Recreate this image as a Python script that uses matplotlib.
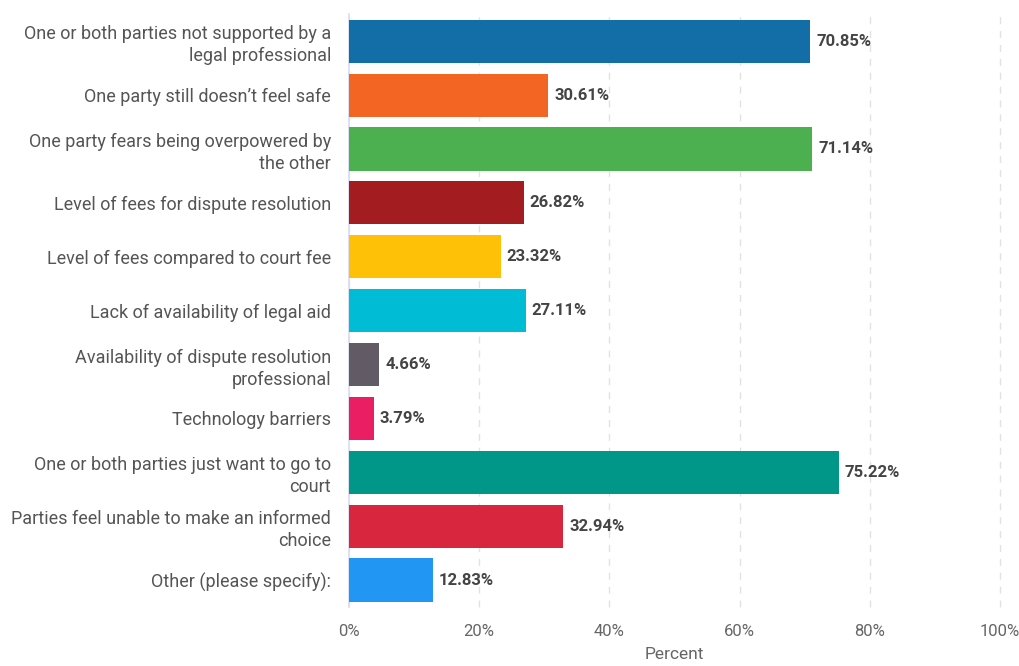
import matplotlib
matplotlib.use("Agg")
import matplotlib.pyplot as plt

categories = [
    "One or both parties not supported by a\nlegal professional",
    "One party still doesn\u2019t feel safe",
    "One party fears being overpowered by\nthe other",
    "Level of fees for dispute resolution",
    "Level of fees compared to court fee",
    "Lack of availability of legal aid",
    "Availability of dispute resolution\nprofessional",
    "Technology barriers",
    "One or both parties just want to go to\ncourt",
    "Parties feel unable to make an informed\nchoice",
    "Other (please specify):",
]
values = [70.85, 30.61, 71.14, 26.82, 23.32, 27.11, 4.66, 3.79, 75.22, 32.94, 12.83]
colors = ["#136ea8", "#f26522", "#4caf50", "#a31c20", "#ffc107", "#00bcd4",
          "#625b65", "#e91e63", "#009688", "#d7263d", "#2196f3"]
ticks = [0, 20, 40, 60, 80, 100]

plt.rcParams['font.family'] = ['Roboto', 'DejaVu Sans']

fig = plt.figure(figsize=(10.19, 6.66), dpi=100)
ax = fig.add_axes([0.3425, 0.0886, 0.639, 0.890])

y = list(range(len(categories)))
ax.barh(y, values, height=0.8, color=colors, zorder=3)
for yi, v in zip(y, values):
    ax.text(v + 0.9, yi, f"{v:.2f}%", va="center", ha="left",
            fontsize=12, fontweight="bold", color="#444444", zorder=4)

ax.set_ylim(len(categories) - 0.5, -0.5)
ax.set_xlim(0, 100)
ax.set_yticks(y)
ax.set_yticklabels(categories, fontsize=13, color="#555555", linespacing=1.3)
ax.set_xticks(ticks)
ax.set_xticklabels([f"{t}%" for t in ticks], fontsize=12, color="#666666")
ax.tick_params(axis="both", length=0)
ax.tick_params(axis="y", pad=13)
ax.tick_params(axis="x", pad=12)
ax.set_xlabel("Percent", fontsize=12.5, color="#666666", labelpad=6)

for s in ["top", "right", "bottom"]:
    ax.spines[s].set_visible(False)
ax.spines["left"].set_color("#d8dcef")
ax.spines["left"].set_linewidth(1.2)
ax.grid(axis="x", linestyle=(0, (5, 5)), color="#e2e2e2", linewidth=1, zorder=0)
for gl in ax.get_xgridlines():
    gl.set_clip_on(False)
ax.set_axisbelow(True)

fig.savefig("out.png", dpi=100)
